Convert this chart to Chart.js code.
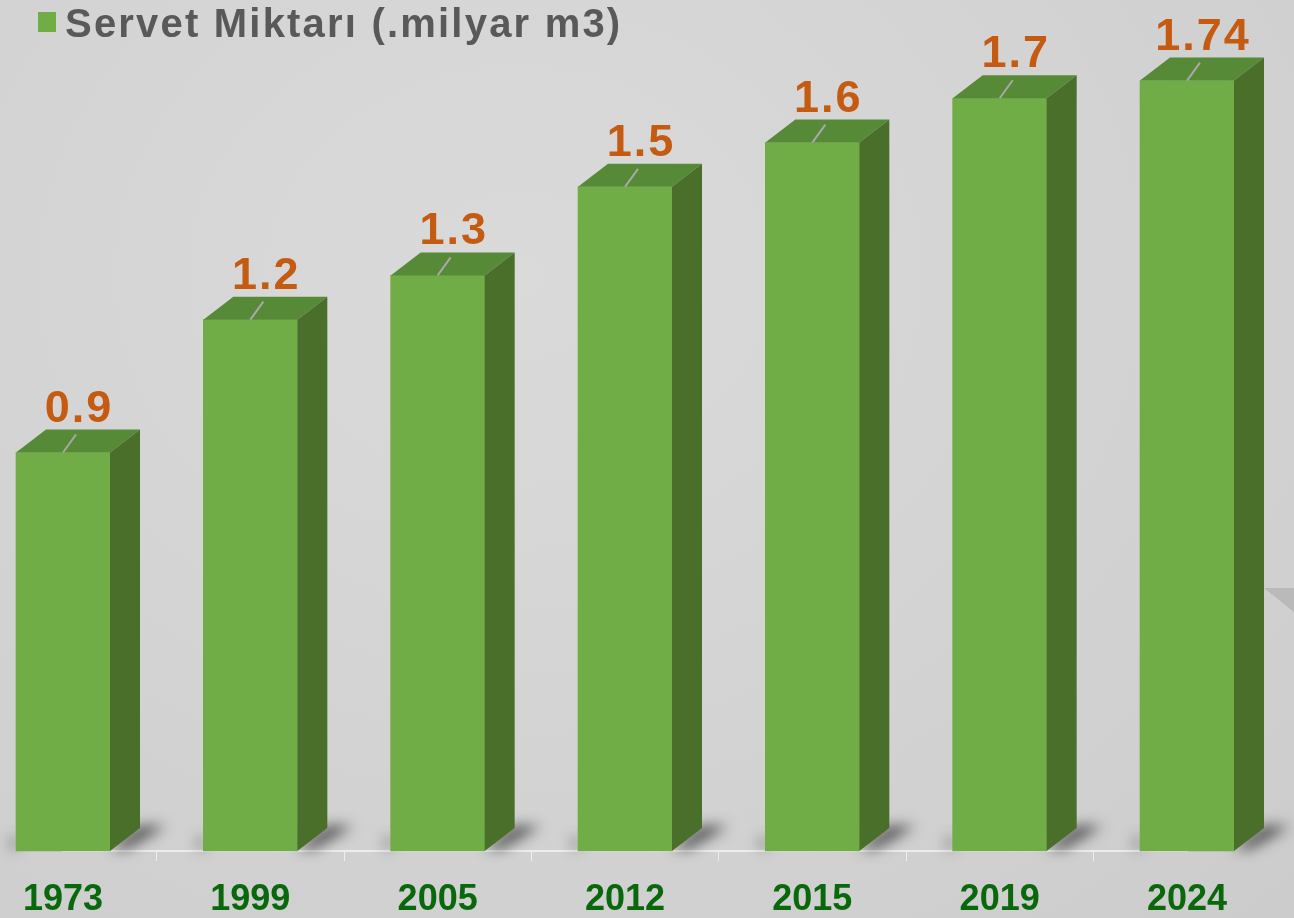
<!DOCTYPE html>
<html>
<head>
<meta charset="utf-8">
<script src="https://cdn.jsdelivr.net/npm/chart.js@4"></script>
<style>
    html, body { margin: 0; padding: 0; }
    body {
        width: 1294px;
        height: 918px;
        overflow: hidden;
        background: radial-gradient(ellipse at 40% 30%, #dadada 0%, #d3d3d3 55%, #cccccc 100%);
    }
    #kutu { position: relative; width: 1294px; height: 918px; }
</style>
</head>
<body>
<div id="kutu"><canvas id="grafikServet"></canvas></div>
<script>
const yillar = ["1973", "1999", "2005", "2012", "2015", "2019", "2024"];
const servetMiktari = [0.9, 1.2, 1.3, 1.5, 1.6, 1.7, 1.74];
const etiketler = ["0.9", "1.2", "1.3", "1.5", "1.6", "1.7", "1.74"];
const seriAdi = "Servet Miktarı (.milyar m3)";

const onRenk = "#70AD47";
const ustRenk = "#578A37";
const yanRenk = "#496F2B";
const derinX = 30;
const derinY = 23;

// arka plandaki kivrik kose
const arkaPlan = {
    id: "arkaPlan",
    beforeDraw(chart) {
        const c = chart.ctx;
        c.save();
        c.fillStyle = "#bababa";
        c.beginPath();
        c.moveTo(1264, 588);
        c.lineTo(1294, 588);
        c.lineTo(1294, 612);
        c.closePath();
        c.fill();
        c.restore();
    }
};

// 3 boyutlu cubuk: golge, ust yuz, yan yuz
const ucBoyut = {
    id: "ucBoyut",
    beforeDatasetsDraw(chart) {
        const c = chart.ctx;
        chart.getDatasetMeta(0).data.forEach(bar => {
            const sol = bar.x - bar.width / 2;
            const sag = bar.x + bar.width / 2;
            const taban = bar.base;
            c.save();
            c.filter = "blur(7px)";
            c.fillStyle = "rgba(30,30,30,0.75)";
            c.beginPath();
            c.moveTo(sag, taban - 2);
            c.lineTo(sag + derinX, taban - derinY - 2);
            c.lineTo(sag + derinX + 26, taban - derinY - 2);
            c.lineTo(sag + 16, taban - 2);
            c.closePath();
            c.fill();
            c.fillStyle = "rgba(30,30,30,0.45)";
            c.fillRect(sol - 6, taban - 14, 8, 12);
            c.restore();
        });
    },
    afterDatasetsDraw(chart) {
        const c = chart.ctx;
        chart.getDatasetMeta(0).data.forEach(bar => {
            const sol = bar.x - bar.width / 2;
            const sag = bar.x + bar.width / 2;
            const ust = bar.y;
            const taban = bar.base;
            c.save();
            c.fillStyle = ustRenk;
            c.beginPath();
            c.moveTo(sol, ust);
            c.lineTo(sol + derinX, ust - derinY);
            c.lineTo(sag + derinX, ust - derinY);
            c.lineTo(sag, ust);
            c.closePath();
            c.fill();
            c.fillStyle = yanRenk;
            c.beginPath();
            c.moveTo(sag, ust);
            c.lineTo(sag + derinX, ust - derinY);
            c.lineTo(sag + derinX, taban - derinY);
            c.lineTo(sag, taban);
            c.closePath();
            c.fill();
            c.restore();
        });
    }
};

// deger etiketleri ve ince gosterge cizgisi
const degerEtiketi = {
    id: "degerEtiketi",
    afterDatasetsDraw(chart) {
        const c = chart.ctx;
        chart.getDatasetMeta(0).data.forEach((bar, i) => {
            const ox = bar.x + 16;
            c.save();
            c.strokeStyle = "#a8a8a8";
            c.lineWidth = 2;
            c.beginPath();
            c.moveTo(bar.x, bar.y);
            c.lineTo(bar.x + 13, bar.y - 18);
            c.stroke();
            c.fillStyle = "#C55A11";
            c.font = "bold 45px 'Liberation Sans', Arial, sans-serif";
            c.letterSpacing = "2px";
            c.textAlign = "center";
            c.textBaseline = "alphabetic";
            c.fillText(etiketler[i], ox, bar.y - 31);
            c.restore();
        });
    }
};

// gosterge (legend)
const gosterge = {
    id: "gosterge",
    afterDraw(chart) {
        const c = chart.ctx;
        c.save();
        c.fillStyle = onRenk;
        c.fillRect(38, 12, 18, 20);
        c.fillStyle = "#595959";
        c.font = "bold 40px 'Liberation Sans', Arial, sans-serif";
        c.letterSpacing = "2.2px";
        c.textBaseline = "alphabetic";
        c.fillText(seriAdi, 65, 37);
        c.restore();
    }
};

const ctx = document.getElementById("grafikServet").getContext("2d");

new Chart(ctx, {
    type: "bar",
    data: {
        labels: yillar,
        datasets: [{
            label: seriAdi,
            data: servetMiktari,
            backgroundColor: onRenk,
            borderWidth: 0,
            barThickness: 94,
            clip: false
        }]
    },
    options: {
        responsive: true,
        maintainAspectRatio: false,
        animation: false,
        layout: {
            padding: { left: 63, right: 107, top: 54, bottom: 0 }
        },
        scales: {
            x: {
                offset: false,
                afterFit: (scale) => { scale.height = 67; },
                grid: {
                    display: true,
                    offset: true,
                    drawOnChartArea: false,
                    color: "rgba(245,245,245,0.8)",
                    tickLength: 10
                },
                border: { display: true, color: "rgba(240,240,240,0.9)", width: 2 },
                ticks: {
                    color: "#0A680C",
                    font: { family: "'Liberation Sans', Arial, sans-serif", size: 36, weight: "bold", lineHeight: 1 },
                    padding: 21,
                    maxRotation: 0
                }
            },
            y: {
                display: false,
                min: 0,
                max: 1.8
            }
        },
        plugins: {
            legend: { display: false },
            tooltip: { enabled: false }
        }
    },
    plugins: [arkaPlan, ucBoyut, degerEtiketi, gosterge]
});
</script>
</body>
</html>
